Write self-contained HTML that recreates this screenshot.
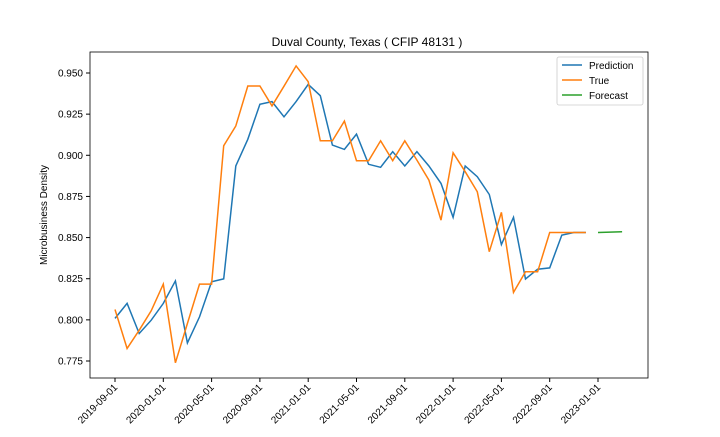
<!DOCTYPE html>
<html><head><meta charset="utf-8"><style>
body{margin:0;background:#fff;}
svg text{font-family:"Liberation Sans","DejaVu Sans",sans-serif;fill:#000;}
</style></head><body>
<svg id="chart" width="720" height="432" xmlns="http://www.w3.org/2000/svg">
<rect width="720" height="432" fill="#fff"/>
<text x="367" y="46" font-size="12" text-anchor="middle">Duval County, Texas ( CFIP 48131 )</text>
<text x="0" y="0" font-size="10" text-anchor="middle" transform="translate(47,215) rotate(-90)">Microbusiness Density</text>
<g id="grid"></g>
<g id="series"></g>
<rect x="90" y="52" width="558" height="326" fill="none" stroke="#000" stroke-width="0.8"/>
<g>
<rect x="557" y="57" width="86" height="48" fill="#fff" stroke="#ccc" stroke-width="0.8" rx="2"/>
<line x1="562" y1="65" x2="582" y2="65" stroke="#1f77b4" stroke-width="1.5"/>
<text x="589" y="69" font-size="10">Prediction</text>
<line x1="562" y1="80" x2="582" y2="80" stroke="#ff7f0e" stroke-width="1.5"/>
<text x="589" y="84" font-size="10">True</text>
<line x1="562" y1="95" x2="582" y2="95" stroke="#2ca02c" stroke-width="1.5"/>
<text x="589" y="99" font-size="10">Forecast</text>
</g>
</svg>
<script>
const prediction=[0.8009,0.8100,0.7917,0.7998,0.8100,0.8237,0.7860,0.8018,0.8231,0.8249,0.8935,0.9097,0.9310,0.9326,0.9234,0.9326,0.9431,0.9362,0.9062,0.9036,0.9129,0.8945,0.8927,0.9022,0.8935,0.9022,0.8935,0.8829,0.8623,0.8935,0.8870,0.8762,0.8458,0.8623,0.8248,0.8308,0.8316,0.8515,0.8531,0.8531];
const trueVals=[0.8063,0.7826,0.7937,0.8055,0.8217,0.7739,0.7978,0.8217,0.8217,0.9058,0.9178,0.9421,0.9421,0.9300,0.9420,0.9543,0.9447,0.9088,0.9088,0.9208,0.8967,0.8967,0.9088,0.8967,0.9088,0.8971,0.8849,0.8606,0.9015,0.8900,0.8778,0.8414,0.8653,0.8167,0.8292,0.8292,0.8531,0.8531,0.8531,0.8531];
const forecast=[0.8531,0.8533,0.8535];
const forecastStart=40;
const yTicks=[0.775,0.800,0.825,0.850,0.875,0.900,0.925,0.950];
const xTickIdx=[0,4,8,12,16,20,24,28,32,36,40];
const xTickLabels=["2019-09-01","2020-01-01","2020-05-01","2020-09-01","2021-01-01","2021-05-01","2021-09-01","2022-01-01","2022-05-01","2022-09-01","2023-01-01"];
const NS="http://www.w3.org/2000/svg";
const xs=i=>115+i*12.075;
const ys=v=>73+(0.950-v)*(288/0.175);
const grid=document.getElementById('grid'),ser=document.getElementById('series');
yTicks.forEach(t=>{
  const l=document.createElementNS(NS,'line');
  l.setAttribute('x1',86);l.setAttribute('x2',90);l.setAttribute('y1',ys(t));l.setAttribute('y2',ys(t));l.setAttribute('stroke','#000');
  
  
  grid.appendChild(l);
  const tx=document.createElementNS(NS,'text');
  tx.setAttribute('x',83);tx.setAttribute('y',ys(t)+3.5);tx.setAttribute('font-size','10');tx.setAttribute('text-anchor','end');
  tx.textContent=t.toFixed(3);
  
  
  grid.appendChild(tx);
});
xTickIdx.forEach((idx,k)=>{
  const x=xs(idx);
  const l=document.createElementNS(NS,'line');
  l.setAttribute('x1',x);l.setAttribute('x2',x);l.setAttribute('y1',378);l.setAttribute('y2',382);l.setAttribute('stroke','#000');
  
  
  grid.appendChild(l);
  const tx=document.createElementNS(NS,'text');
  tx.setAttribute('font-size','10');tx.setAttribute('text-anchor','end');
  tx.setAttribute('transform',`translate(${x+3},${388}) rotate(-45)`);
  tx.textContent=xTickLabels[k];
  
  
  grid.appendChild(tx);
});
function line(vals,off,color,name){
  const p=document.createElementNS(NS,'polyline');
  p.setAttribute('points',vals.map((v,i)=>xs(i+off).toFixed(1)+','+ys(v).toFixed(1)).join(' '));
  p.setAttribute('fill','none');p.setAttribute('stroke',color);p.setAttribute('stroke-width','1.5');
  
  
  ser.appendChild(p);
}
line(prediction,0,'#1f77b4','prediction-line');
line(trueVals,0,'#ff7f0e','true-line');
line(forecast,forecastStart,'#2ca02c','forecast-line');
</script>
</body></html>
